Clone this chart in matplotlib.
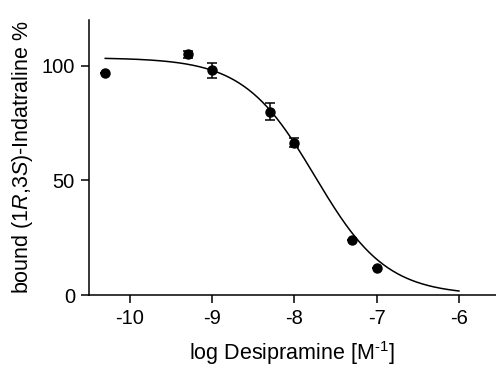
import numpy as np
import matplotlib
matplotlib.use('Agg')
import matplotlib.pyplot as plt

plt.rcParams['font.family'] = ['Liberation Sans', 'DejaVu Sans']
plt.rcParams['mathtext.fontset'] = 'custom'
plt.rcParams['mathtext.rm'] = 'Liberation Sans'
plt.rcParams['mathtext.it'] = 'Liberation Sans:italic'

# measured points (log M, % bound, SEM)
logConc = [-10.3, -9.3, -9.0, -8.3, -8.0, -7.3, -7.0]
bound = [97, 105, 98, 80, 66.5, 24, 12]
sem = [0, 1.5, 3.3, 3.6, 2.0, 0, 0]

# fitted one-site competition curve
top = 103.5
bottom = 0.0
logIC50 = -7.75
hill = 1.0
curveStart = -10.3
curveEnd = -6.0

xTicks = [-10, -9, -8, -7, -6]
yTicks = [0, 50, 100]

fig = plt.figure(figsize=(4.96, 3.68), dpi=100)
ax = fig.add_axes([0.179, 0.198, 0.821, 0.748])

xc = np.linspace(curveStart, curveEnd, 300)
yc = bottom + (top - bottom) / (1 + 10 ** ((xc - logIC50) * hill))
ax.plot(xc, yc, color='black', lw=1.1)

ax.errorbar(logConc, bound, yerr=sem, fmt='o', color='black', ms=6.5,
	ecolor='black', elinewidth=1.1, capsize=3.3, capthick=1.1)

ax.set_xlim(-10.5, -5.55)
ax.set_ylim(0, 120)
ax.set_xticks(xTicks)
ax.set_yticks(yTicks)
ax.set_xticklabels([str(t) for t in xTicks])

for s in ['top', 'right']:
	ax.spines[s].set_visible(False)
for s in ['left', 'bottom']:
	ax.spines[s].set_linewidth(1.1)
ax.tick_params(direction='out', length=6, width=1.1, labelsize=14.5, pad=4)

ax.set_xlabel('log Desipramine [M$^{\\text{-1}}$]', fontsize=15.5, labelpad=8)
ax.set_ylabel('bound (1$\\it{R}$,3$\\it{S}$)-Indatraline %', fontsize=15.5, labelpad=5)

fig.savefig('out.png', dpi=100)
